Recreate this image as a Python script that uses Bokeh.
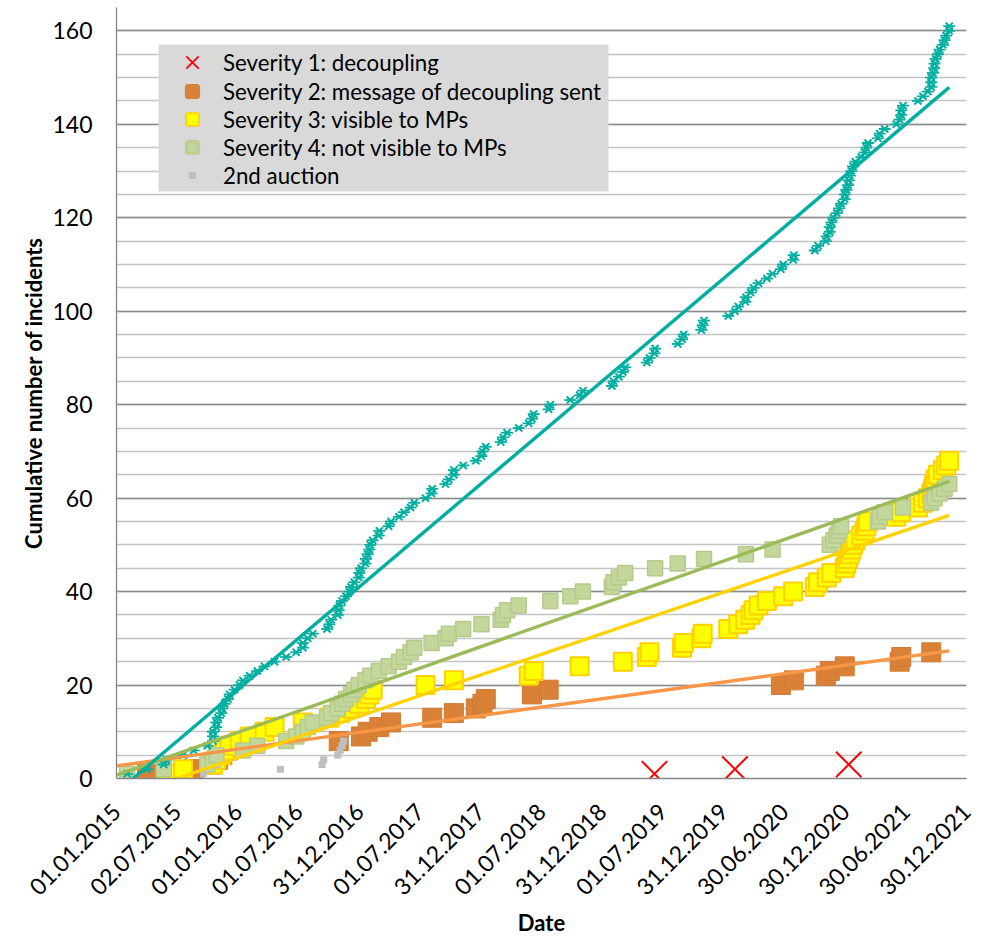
import math
import numpy as np
import pandas as pd
from bokeh.plotting import figure
from bokeh.models import (Range1d, FixedTicker, DatetimeTickFormatter, Legend, LegendItem,
                          BoxAnnotation, ColumnDataSource)
from bokeh.embed import file_html
from bokeh.resources import INLINE

# ---------------- data (incident dates per severity) -------------
SEV1_DATES = ["2019-06-06", "2020-02-03", "2021-01-10"]

SEV2_DATES = [
    "2015-04-03", "2015-08-21", "2015-10-18", "2015-11-02", "2015-11-15", "2015-12-02", "2015-12-22",
    "2016-10-30", "2017-01-05", "2017-01-25", "2017-03-01", "2017-04-05", "2017-08-07", "2017-10-11",
    "2017-12-16", "2018-01-05", "2018-01-15", "2018-06-03", "2018-07-23", "2020-06-20", "2020-07-29",
    "2020-11-02", "2020-11-14", "2020-12-29", "2021-06-12", "2021-06-17", "2021-09-15"]

SEV3_DATES = [
    "2015-05-31", "2015-07-20", "2015-10-18", "2015-10-28", "2015-11-12", "2015-11-22", "2015-12-07",
    "2016-01-06", "2016-02-05", "2016-03-21", "2016-04-20", "2016-07-14", "2016-10-02", "2016-11-01",
    "2016-12-01", "2016-12-31", "2017-01-20", "2017-01-30", "2017-02-09", "2017-07-18", "2017-10-11",
    "2018-05-24", "2018-06-08", "2018-10-24", "2019-03-03", "2019-05-14", "2019-05-22", "2019-08-28",
    "2019-09-02", "2019-10-25", "2019-10-29", "2020-01-14", "2020-02-13", "2020-03-05", "2020-03-21",
    "2020-03-30", "2020-04-14", "2020-05-09", "2020-06-27", "2020-07-27", "2020-09-30", "2020-10-10",
    "2020-11-05", "2020-11-19", "2020-12-29", "2021-01-03", "2021-01-08", "2021-01-13", "2021-01-18",
    "2021-01-23", "2021-01-30", "2021-02-17", "2021-02-27", "2021-03-04", "2021-03-09", "2021-06-02",
    "2021-06-17", "2021-08-06", "2021-08-21", "2021-09-05", "2021-09-15", "2021-09-20", "2021-09-24",
    "2021-09-28", "2021-10-05", "2021-10-20", "2021-10-30", "2021-11-08"]

SEV4_DATES = [
    "2015-02-02", "2015-05-23", "2015-10-01", "2015-10-18", "2015-10-28", "2016-01-16", "2016-02-28",
    "2016-05-25", "2016-06-24", "2016-07-14", "2016-07-29", "2016-08-13", "2016-09-25", "2016-10-07",
    "2016-10-27", "2016-11-09", "2016-11-21", "2016-12-06", "2016-12-16", "2016-12-29", "2017-01-18",
    "2017-02-02", "2017-02-27", "2017-03-29", "2017-04-29", "2017-05-14", "2017-06-03", "2017-06-14",
    "2017-08-05", "2017-09-16", "2017-09-26", "2017-11-08", "2018-01-02", "2018-03-01", "2018-03-08",
    "2018-03-20", "2018-04-24", "2018-07-28", "2018-09-26", "2018-11-03", "2019-01-29", "2019-02-03",
    "2019-02-19", "2019-03-10", "2019-06-08", "2019-08-15", "2019-11-02", "2020-03-07", "2020-05-26",
    "2020-11-14", "2020-11-25", "2020-12-05", "2020-12-12", "2020-12-18", "2021-04-08", "2021-04-13",
    "2021-04-28", "2021-06-22", "2021-09-15", "2021-09-25", "2021-10-10", "2021-10-25", "2021-11-08"]

AUCTION2_DATES = ["2015-09-19", "2016-05-08", "2016-09-10", "2016-09-15", "2016-10-27",
                  "2016-11-03", "2016-11-09", "2016-11-14"]

# linear trend lines (value at start and end date)
TREND_DATES = ["2015-01-01", "2021-11-08"]
TREND_TOTAL = [-3.0, 147.9]
TREND_SEV2 = [2.7, 27.3]
TREND_SEV3 = [-4.4, 56.3]
TREND_SEV4 = [0.7, 63.6]

X_TICK_DATES = ["2015-01-01", "2015-07-02", "2016-01-01", "2016-07-01", "2016-12-31", "2017-07-01",
                "2017-12-31", "2018-07-01", "2018-12-31", "2019-07-01", "2019-12-31", "2020-06-30",
                "2020-12-30", "2021-06-30", "2021-12-30"]
Y_TICKS = [0, 20, 40, 60, 80, 100, 120, 140, 160]
Y_MINOR_TICKS = [0, 5, 10, 15, 20, 25, 30, 35, 40, 45, 50, 55, 60, 65, 70, 75, 80, 85, 90, 95,
                 100, 105, 110, 115, 120, 125, 130, 135, 140, 145, 150, 155, 160, 165]
X_START, X_END = "2015-01-01", "2021-12-30"
Y_START, Y_END = 0, 165

LABELS = ["Severity 1: decoupling", "Severity 2: message of decoupling sent",
          "Severity 3: visible to MPs", "Severity 4: not visible to MPs", "2nd auction"]

FONT = "Lato"
TEAL = "#00AFA0"
RED = "#FF0000"
ORANGE_M, ORANGE_L = "#DA8138", "#F79646"
YELLOW_M, YELLOW_E, YELLOW_L = "#FFFF00", "#FFD000", "#FFD200"
GREEN_M, GREEN_E, GREEN_L = "#C3D69B", "#B6CB8B", "#9BBB59"
GRAY = "#BFBFBF"
LEGEND_BG = "#D9D9D9"


def cumulative(dates):
    d = pd.to_datetime(sorted(dates))
    return ColumnDataSource(dict(x=d, y=np.arange(1, len(d) + 1)))


src1 = cumulative(SEV1_DATES)
src2 = cumulative(SEV2_DATES)
src3 = cumulative(SEV3_DATES)
src4 = cumulative(SEV4_DATES)
src_a = cumulative(AUCTION2_DATES)
src_t = cumulative(SEV1_DATES + SEV2_DATES + SEV3_DATES + SEV4_DATES)

W, H = 988, 938
p = figure(width=W, height=H, x_axis_type="datetime", output_backend="svg", toolbar_location=None,
           x_range=Range1d(pd.Timestamp(X_START), pd.Timestamp(X_END)),
           y_range=Range1d(Y_START, Y_END),
           min_border_left=116, min_border_right=W - 966, min_border_top=7, min_border_bottom=H - 781)
p.outline_line_color = None
p.background_fill_color = "white"
p.border_fill_color = "white"

# markers
p.scatter("x", "y", source=src2, marker="square", size=19, fill_color=ORANGE_M,
          line_color="#D07A33", line_width=1)
p.scatter("x", "y", source=src3, marker="square", size=18, fill_color=YELLOW_M,
          line_color=YELLOW_E, line_width=2)
p.scatter("x", "y", source=src4, marker="square", size=15, fill_color=GREEN_M,
          line_color=GREEN_E, line_width=1.5)
p.scatter("x", "y", source=src1, marker="x", size=36, line_color=RED, line_width=2)
p.scatter("x", "y", source=src_a, marker="square", size=7, fill_color=GRAY, line_color=None)
p.scatter("x", "y", source=src_t, marker="x", size=10, line_color=TEAL, line_width=2)
p.scatter("x", "y", source=src_t, marker="dash", size=12, line_color=TEAL, line_width=1.8)

# trend lines
td = pd.to_datetime(TREND_DATES)
p.line(td, TREND_SEV2, line_color=ORANGE_L, line_width=3.4)
p.line(td, TREND_SEV3, line_color=YELLOW_L, line_width=3.4)
p.line(td, TREND_SEV4, line_color=GREEN_L, line_width=3.4)
p.line(td, TREND_TOTAL, line_color=TEAL, line_width=3.4)

# axes
p.xaxis.ticker = FixedTicker(ticks=[pd.Timestamp(d).value / 1e6 for d in X_TICK_DATES])
fmt = "%d.%m.%Y"
p.xaxis.formatter = DatetimeTickFormatter(microseconds=fmt, milliseconds=fmt, seconds=fmt, minsec=fmt,
                                          minutes=fmt, hourmin=fmt, hours=fmt, days=fmt, months=fmt,
                                          years=fmt)
p.xaxis.major_label_orientation = math.pi / 4
p.yaxis.ticker = FixedTicker(ticks=Y_TICKS, minor_ticks=Y_MINOR_TICKS)

for ax in (p.xaxis, p.yaxis):
    ax.axis_line_color = "#868686"
    ax.axis_line_width = 1.3
    ax.major_tick_line_color = None
    ax.minor_tick_line_color = None
    ax.major_tick_out = 0
    ax.major_tick_in = 0
    ax.major_label_text_font = FONT
    ax.major_label_text_font_size = "23px"
    ax.major_label_text_color = "black"
    ax.axis_label_text_font = FONT
    ax.axis_label_text_font_size = "22px"
    ax.axis_label_text_font_style = "bold"
    ax.axis_label_text_color = "black"

p.xaxis.axis_label = "Date"
p.yaxis.axis_label = "Cumulative number of incidents"
p.yaxis.major_label_standoff = 20
p.yaxis.axis_label_standoff = 2
p.xaxis.major_label_standoff = 29
p.xaxis.axis_label_standoff = 3

p.xgrid.grid_line_color = None
p.ygrid.grid_line_color = "#8C8C8C"
p.ygrid.grid_line_width = 1.3
p.ygrid.minor_grid_line_color = "#C4C4C4"
p.ygrid.minor_grid_line_width = 1.3

# legend background (screen units relative to the plot frame)
p.add_layout(BoxAnnotation(left=42, right=492, top=734, bottom=587,
                           left_units="screen", right_units="screen",
                           top_units="screen", bottom_units="screen",
                           fill_color=LEGEND_BG, fill_alpha=1.0, line_color=None, level="annotation"))


# legend swatches: renderers holding a single NaN point, so they only appear in the legend
def swatch(**kw):
    return p.scatter(x=[np.nan], y=[np.nan], **kw)


g1 = swatch(marker="x", line_color=RED, line_width=1.8)
g2 = swatch(marker="square", fill_color=ORANGE_M, line_color=ORANGE_M, line_width=4)
g3a = swatch(marker="square", fill_color=YELLOW_E, line_color=YELLOW_E, line_width=3.4)
g3b = swatch(marker="square", fill_color=YELLOW_M, line_color=None)
g4 = swatch(marker="square", fill_color=GREEN_M, line_color="#BDD092", line_width=4)
g5 = swatch(marker="square", fill_color=GRAY, line_color=LEGEND_BG, line_width=4)

common = dict(orientation="vertical", spacing=0, padding=0, margin=0,
              background_fill_alpha=0, border_line_color=None,
              label_text_font=FONT, label_text_font_size="22.3px", label_text_color="black")

legend_top = Legend(items=[LegendItem(label=LABELS[0], renderers=[g1])],
                    location=(54, 694), glyph_width=44, glyph_height=44, label_height=44,
                    label_standoff=9, **common)
legend_rest = Legend(items=[LegendItem(label=LABELS[1], renderers=[g2]),
                            LegendItem(label=LABELS[2], renderers=[g3a, g3b]),
                            LegendItem(label=LABELS[3], renderers=[g4]),
                            LegendItem(label=LABELS[4], renderers=[g5])],
                     location=(62, 589), glyph_width=28, glyph_height=28, label_height=28,
                     label_standoff=17, **common)
p.add_layout(legend_top)
p.add_layout(legend_rest)

open("out.html", "w").write(file_html(p, INLINE))
